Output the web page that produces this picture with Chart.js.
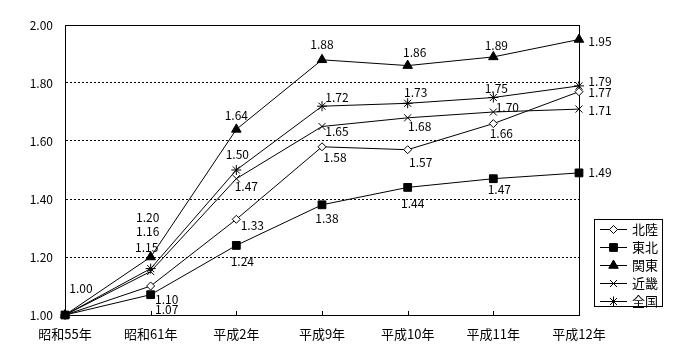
<!DOCTYPE html>
<html>
<head>
<meta charset="utf-8">
<script src="https://cdn.jsdelivr.net/npm/chart.js@4/dist/chart.umd.min.js"></script>
<style>
  html, body { margin: 0; padding: 0; background: #fff; }
  #wrap { width: 700px; height: 360px; }
</style>
</head>
<body>
<div id="wrap"><canvas id="c" width="700" height="360"></canvas></div>
<script>
const categories = ['昭和55年', '昭和61年', '平成2年', '平成9年', '平成10年', '平成11年', '平成12年'];
const seriesNames = ['北陸', '東北', '関東', '近畿', '全国'];
const hokuriku = [1.00, 1.10, 1.33, 1.58, 1.57, 1.66, 1.77];
const tohoku   = [1.00, 1.07, 1.24, 1.38, 1.44, 1.47, 1.49];
const kanto    = [1.00, 1.20, 1.64, 1.88, 1.86, 1.89, 1.95];
const kinki    = [1.00, 1.15, 1.47, 1.65, 1.68, 1.70, 1.71];
const zenkoku  = [1.00, 1.16, 1.50, 1.72, 1.73, 1.75, 1.79];
const yMin = 1.0, yMax = 2.0, yStep = 0.2;

// label placement relative to each point (dx, dy); null = no label
const labelOffsets = [
  [null, [16, 13], [16, 6], [13, 11], [13, 13], [8, 10], [21, 1]],
  [[16, -27], [16, 15], [6, 16], [5, 14], [5, 16], [6, 11], [21, 0]],
  [null, [-3, -40], [0, -14], [0, -15], [7, -13], [3, -11], [21, 2]],
  [null, [-4, -24], [10, 8], [15, 5], [12, 9], [14, -5], [21, 1]],
  [null, [-3, -37], [1, -16], [15, -9], [8, -11], [3, -9], [21, -4]]
];

const FONT = '"Noto Sans CJK JP", "Noto Sans", sans-serif';

const styles = [
  { pointStyle: 'rectRot', radius: 4, bg: '#ffffff', order: 2 },
  { pointStyle: 'rect', radius: 5.5, bg: '#000000', order: 0 },
  { pointStyle: 'triangle', radius: 5.5, bg: '#000000', order: 1 },
  { pointStyle: 'crossRot', radius: 5, bg: '#000000', order: 3 },
  { pointStyle: 'star', radius: 5, bg: '#000000', order: 4 }
];
const values = [hokuriku, tohoku, kanto, kinki, zenkoku];

const datasets = values.map((v, i) => ({
  label: seriesNames[i],
  data: v,
  order: styles[i].order,
  borderColor: '#000',
  borderWidth: 1,
  backgroundColor: styles[i].bg,
  pointStyle: styles[i].pointStyle,
  pointRadius: styles[i].radius,
  pointHoverRadius: styles[i].radius,
  pointBackgroundColor: styles[i].bg,
  pointBorderColor: '#000',
  pointBorderWidth: 1,
  tension: 0,
  fill: false,
  clip: false
}));

const framePlugin = {
  id: 'frame',
  beforeDatasetsDraw(chart) {
    const { ctx, chartArea: a, scales } = chart;
    ctx.save();
    ctx.strokeStyle = '#000';
    ctx.lineWidth = 1;
    ctx.setLineDash([]);
    ctx.strokeRect(Math.round(a.left) + 0.5, Math.round(a.top) + 0.5,
                   Math.round(a.right - a.left), Math.round(a.bottom - a.top));
    const xs = scales.x;
    for (let i = 0; i < categories.length; i++) {
      const x = Math.round(xs.getPixelForTick(i)) + 0.5;
      ctx.beginPath();
      ctx.moveTo(x, Math.round(a.bottom));
      ctx.lineTo(x, Math.round(a.bottom) - 4);
      ctx.stroke();
    }
    ctx.restore();
  }
};

const labelPlugin = {
  id: 'vlabels',
  afterDatasetsDraw(chart) {
    const { ctx } = chart;
    ctx.save();
    ctx.fillStyle = '#000';
    ctx.font = '12px ' + FONT;
    ctx.textAlign = 'center';
    ctx.textBaseline = 'middle';
    chart.data.datasets.forEach((ds, di) => {
      const meta = chart.getDatasetMeta(di);
      meta.data.forEach((pt, i) => {
        const off = labelOffsets[di][i];
        if (!off) return;
        ctx.fillText(ds.data[i].toFixed(2), pt.x + off[0], pt.y + off[1]);
      });
    });
    ctx.restore();
  }
};

function drawMarker(ctx, style, r, x, y, bg) {
  ctx.save();
  ctx.fillStyle = bg;
  ctx.strokeStyle = '#000';
  ctx.lineWidth = 1;
  ctx.beginPath();
  if (style === 'rectRot') {
    ctx.moveTo(x, y - r); ctx.lineTo(x + r, y); ctx.lineTo(x, y + r); ctx.lineTo(x - r, y); ctx.closePath();
    ctx.fill(); ctx.stroke();
  } else if (style === 'rect') {
    const s = r * Math.SQRT1_2;
    ctx.rect(x - s, y - s, 2 * s, 2 * s); ctx.fill(); ctx.stroke();
  } else if (style === 'triangle') {
    const h = r;
    ctx.moveTo(x, y - h); ctx.lineTo(x + h * 0.866, y + h * 0.5); ctx.lineTo(x - h * 0.866, y + h * 0.5); ctx.closePath();
    ctx.fill(); ctx.stroke();
  } else if (style === 'crossRot' || style === 'star') {
    const d = r * Math.SQRT1_2;
    ctx.moveTo(x - d, y - d); ctx.lineTo(x + d, y + d);
    ctx.moveTo(x + d, y - d); ctx.lineTo(x - d, y + d);
    if (style === 'star') {
      ctx.moveTo(x, y - r); ctx.lineTo(x, y + r);
    }
    ctx.stroke();
  }
  ctx.restore();
}

const legendPlugin = {
  id: 'boxLegend',
  afterDraw(chart) {
    const { ctx, chartArea: a } = chart;
    const left = Math.round(a.right) + 15, top = 219, w = 68, rowH = 18;
    const h = rowH * seriesNames.length - 3;
    ctx.save();
    ctx.strokeStyle = '#000';
    ctx.lineWidth = 1;
    ctx.strokeRect(left + 0.5, top + 0.5, w, h);
    ctx.font = '13px ' + FONT;
    ctx.fillStyle = '#000';
    ctx.textAlign = 'left';
    ctx.textBaseline = 'middle';
    chart.data.datasets.forEach((ds, i) => {
      const y = Math.round(top + 10 + i * rowH) + 0.5;
      ctx.beginPath();
      ctx.moveTo(left + 6, y); ctx.lineTo(left + 33, y); ctx.stroke();
      drawMarker(ctx, styles[i].pointStyle, styles[i].radius, left + 19.5, y, styles[i].bg);
      ctx.fillText(ds.label, left + 38, y);
    });
    ctx.restore();
  }
};

new Chart(document.getElementById('c'), {
  type: 'line',
  data: { labels: categories, datasets },
  options: {
    responsive: false,
    animation: false,
    events: [],
    layout: { padding: { top: 25, right: 121, left: 0, bottom: 0 } },
    plugins: { legend: { display: false }, tooltip: { enabled: false } },
    scales: {
      x: {
        type: 'category',
        offset: false,
        grid: { display: false, drawTicks: false },
        border: { display: true, color: '#000', width: 1 },
        ticks: { color: '#000', font: { family: FONT, size: 13 }, padding: 11, maxRotation: 0, autoSkip: false },
        afterFit(s) { s.height = 45; }
      },
      y: {
        min: yMin, max: yMax,
        grid: { color: '#000', lineWidth: 1, drawTicks: false },
        border: { display: true, color: '#000', width: 1, dash: [2, 2] },
        ticks: { stepSize: yStep, color: '#000', font: { family: FONT, size: 12 }, padding: 12,
                 callback: v => Number(v).toFixed(2) },
        afterFit(s) { s.width = 65; }
      }
    }
  },
  plugins: [framePlugin, labelPlugin, legendPlugin]
});
</script>
</body>
</html>
